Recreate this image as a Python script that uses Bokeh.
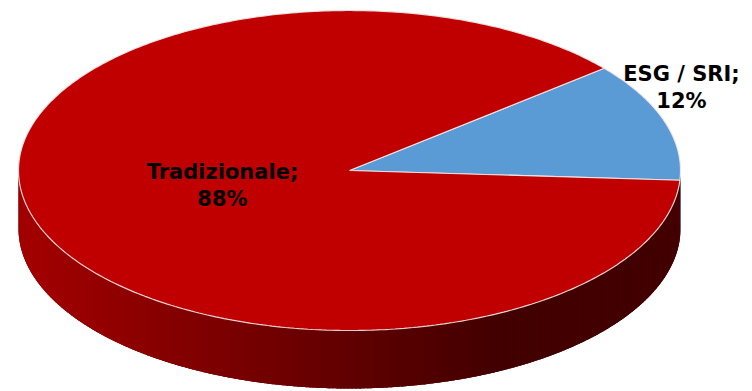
import numpy as np
from bokeh.plotting import figure
from bokeh.models import Range1d, ColumnDataSource
from bokeh.core.properties import value
from bokeh.embed import file_html
from bokeh.resources import INLINE

# ---- data ----
categories = ["Tradizionale", "ESG / SRI"]
values = [88, 12]
label_line1 = ["Tradizionale;", "ESG / SRI;"]
label_line2 = ["88%", "12%"]

# ---- layout / style constants ----
W, H = 752, 391
CX, CY = 349.0, 170.0
RX, RY = 331.0, 160.0
DEPTH = 58.0
START_DEG = -3.5          # where the ESG slice starts (counter-clockwise order)
top_colors = {"Tradizionale": "#c00000", "ESG / SRI": "#5b9bd5"}
label_pos = {"Tradizionale": (222, 171), "ESG / SRI": (681, 73)}
LINE_GAP = 27


def pt(theta_deg):
    t = np.radians(theta_deg)
    return CX + RX * np.cos(t), CY - RY * np.sin(t)


def side_color(x, base):
    if base == "blue":
        return "#2e5a86"
    r = 165 - 0.206 * (x - 20)
    r = int(max(66, min(168, r)))
    return "#%02x0000" % r


p = figure(width=W, height=H, x_range=Range1d(0, W), y_range=Range1d(H, 0),
           output_backend="svg", toolbar_location=None, min_border=0)
p.axis.visible = False
p.grid.visible = False
p.outline_line_color = None
p.background_fill_color = "white"
p.border_fill_color = "white"

# slice angles from values (ESG first, counter-clockwise from START_DEG)
order = ["ESG / SRI", "Tradizionale"]
total = float(sum(values))
spans = {}
a = START_DEG
for name in order:
    v = values[categories.index(name)]
    sweep = 360.0 * v / total
    spans[name] = (a, a + sweep)
    a += sweep

# ---- side (visible lower half 180..360) ----
# base band underneath, to hide seams between gradient strips
thb = np.linspace(180, 360, 400)
bx, by = pt(thb)
p.patch(x=list(bx) + list(bx[::-1]), y=list(by) + list((by + DEPTH)[::-1]),
        fill_color="#6a0000", line_color=None)

sxs, sys_, scol = [], [], []
for name in order:
    a0, a1 = spans[name]
    for shift in (-360, 0, 360):
        lo = max(a0 + shift, 180.0)
        hi = min(a1 + shift, 360.0)
        if hi > lo:
            n = max(2, int((hi - lo) * 1.5))
            th = np.linspace(lo, hi, n + 1)
            step = th[1] - th[0]
            for i in range(n):
                t0 = th[i]
                t1 = min(th[i + 1] + 0.6 * step, hi)
                mid = np.linspace(t0, t1, 4)
                xs_top, ys_top = pt(mid)
                sxs.append(list(xs_top) + list(xs_top[::-1]))
                sys_.append(list(ys_top) + list((ys_top + DEPTH)[::-1]))
                scol.append(side_color(float(np.mean(xs_top)),
                                       "blue" if name == "ESG / SRI" else "red"))
p.patches(xs=sxs, ys=sys_, fill_color=scol, line_color=None)

# ---- top faces ----
txs, tys, tcol = [], [], []
for name in order:
    a0, a1 = spans[name]
    th = np.linspace(a0, a1, 400)
    xx, yy = pt(th)
    txs.append([CX] + list(xx) + [CX])
    tys.append([CY] + list(yy) + [CY])
    tcol.append(top_colors[name])
p.patches(xs=txs, ys=tys, fill_color=tcol, line_color="#f4e8e8",
          line_width=1.2, line_alpha=0.9)

# ---- labels ----
for i, name in enumerate(categories):
    lx, ly = label_pos[name]
    src = ColumnDataSource(dict(x=[lx, lx], y=[ly, ly + LINE_GAP],
                                t=[label_line1[i], label_line2[i]]))
    p.text(x="x", y="y", text="t", source=src, text_align="center",
           text_baseline="alphabetic", text_font=value("DejaVu Sans"),
           text_font_style="bold", text_font_size="21px", text_color="black")

open("out.html", "w").write(file_html(p, INLINE))
